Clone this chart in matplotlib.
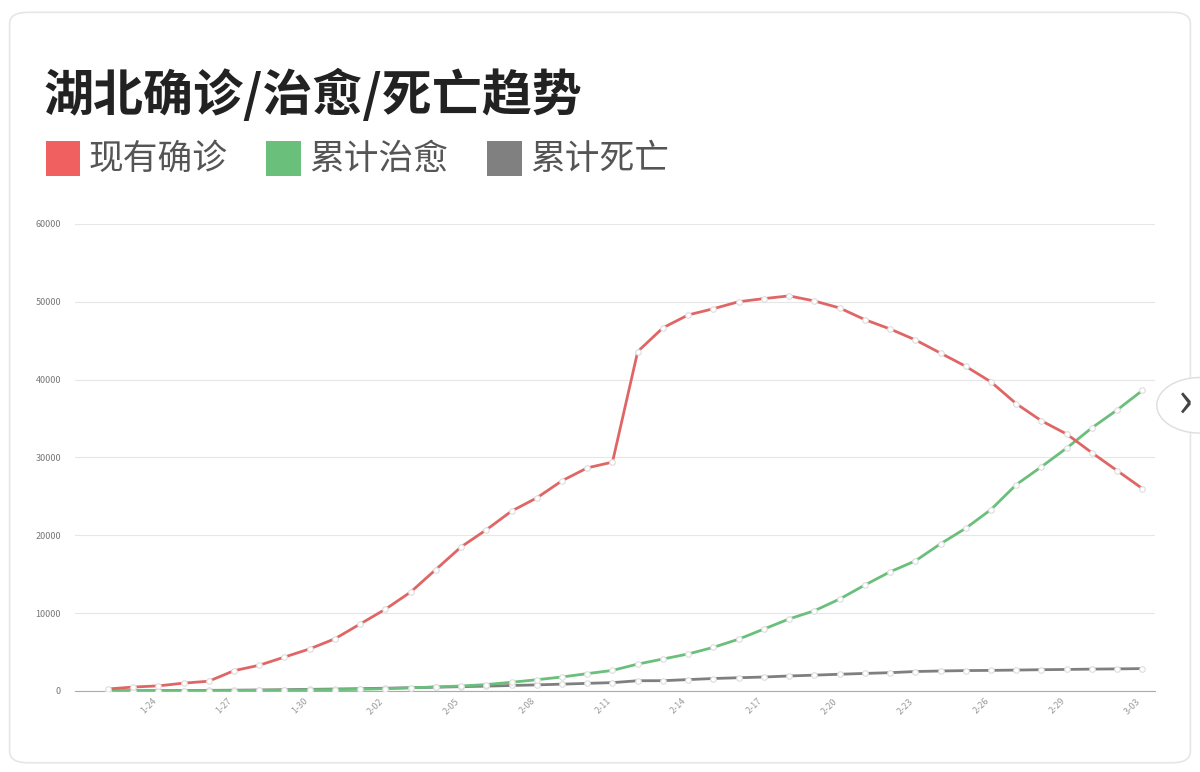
import matplotlib
matplotlib.use("Agg")
import matplotlib.pyplot as plt
from matplotlib.patches import FancyBboxPatch, Circle, Rectangle
import datetime as dt

plt.rcParams['font.family'] = ['Noto Sans CJK SC', 'DejaVu Sans']

start = dt.date(2020, 1, 22)
dates = [start + dt.timedelta(days=i) for i in range(42)]
labels = [f"{d.month}-{d.day:02d}" if d.month > 1 else f"{d.month}-{d.day}" for d in dates]

confirmed = [250, 500, 650, 1000, 1250, 2600, 3300, 4350, 5400, 6700, 8600, 10500,
             12700, 15600, 18500, 20700, 23100, 24800, 27000, 28650, 29400,
             43600, 46650, 48300, 49100, 50000, 50400, 50750, 50100, 49200, 47700,
             46500, 45100, 43400, 41700, 39700, 36900, 34700, 33000, 30600, 28300, 26000]
cured = [28, 31, 32, 42, 44, 47, 80, 90, 134, 166, 215, 295,
         396, 520, 633, 817, 1115, 1439, 1795, 2222, 2639,
         3450, 4100, 4750, 5600, 6650, 7950, 9250, 10300, 11800, 13600, 15300,
         16700, 18900, 20900, 23300, 26500, 28800, 31200, 33800, 36100, 38600]
deaths = [17, 24, 39, 52, 76, 100, 125, 162, 204, 249, 294, 350,
          414, 479, 549, 618, 699, 780, 871, 974, 1068,
          1310, 1318, 1457, 1596, 1696, 1789, 1921, 2029, 2144, 2250, 2346,
          2495, 2563, 2615, 2641, 2682, 2727, 2761, 2803, 2834, 2871]
series_names = ["现有确诊", "累计治愈", "累计死亡"]
colors = ["#e06666", "#6abf7b", "#7f7f7f"]
legend_colors = ["#f06060", "#6abf7b", "#808080"]

fig = plt.figure(figsize=(12, 7.72), dpi=100)
fig.patch.set_facecolor("white")
card = FancyBboxPatch((0.008, 0.012), 0.984, 0.972, boxstyle="round,pad=0,rounding_size=0.015",
                      transform=fig.transFigure, facecolor="white", edgecolor="#e6e6e6", lw=1.2,
                      zorder=-10)
fig.patches.append(card)

fig.text(0.036, 0.877, "湖北确诊/治愈/死亡趋势", fontsize=36, fontweight="bold", color="#222222", va="center")
lx = [0.038, 0.222, 0.406]
for x, name, c in zip(lx, series_names, legend_colors):
    fig.patches.append(Rectangle((x, 0.772), 0.029, 0.045, transform=fig.transFigure, facecolor=c, edgecolor="none"))
    fig.text(x + 0.036, 0.794, name, fontsize=25, color="#555555", va="center")

ax = fig.add_axes([0.0625, 0.105, 0.9, 0.605])
ax.patch.set_alpha(0)
x = list(range(len(dates)))
for vals, c in zip([deaths, cured, confirmed], [colors[2], colors[1], colors[0]]):
    ax.plot(x, vals, color=c, lw=2, marker="o", ms=4, mfc="white", mec="#dddddd", mew=0.8, zorder=3)

ax.set_ylim(0, 60000)
ax.set_yticks(range(0, 60001, 10000))
ax.set_xlim(-1.3, len(dates) - 0.5)
ax.set_xticks(x[2::3])
ax.set_xticklabels(labels[2::3], rotation=45, ha="right", fontsize=6.5, color="#999999")
ax.tick_params(axis="y", labelsize=6.5, labelcolor="#777777", length=0, pad=10)
ax.tick_params(axis="x", length=0, pad=4)
ax.grid(axis="y", color="#e6e6e6", lw=0.8)
for s in ["top", "right", "left"]:
    ax.spines[s].set_visible(False)
ax.spines["bottom"].set_color("#aaaaaa")
ax.set_axisbelow(True)

circ = Circle((1.0, 0.475), 0.036, transform=fig.transFigure, facecolor="white",
              edgecolor="#dddddd", lw=1, zorder=10)
fig.patches.append(circ)
fig.text(0.988, 0.478, "›", fontsize=36, color="#444444", ha="center", va="center", zorder=11)

fig.savefig("out.png", dpi=100)
